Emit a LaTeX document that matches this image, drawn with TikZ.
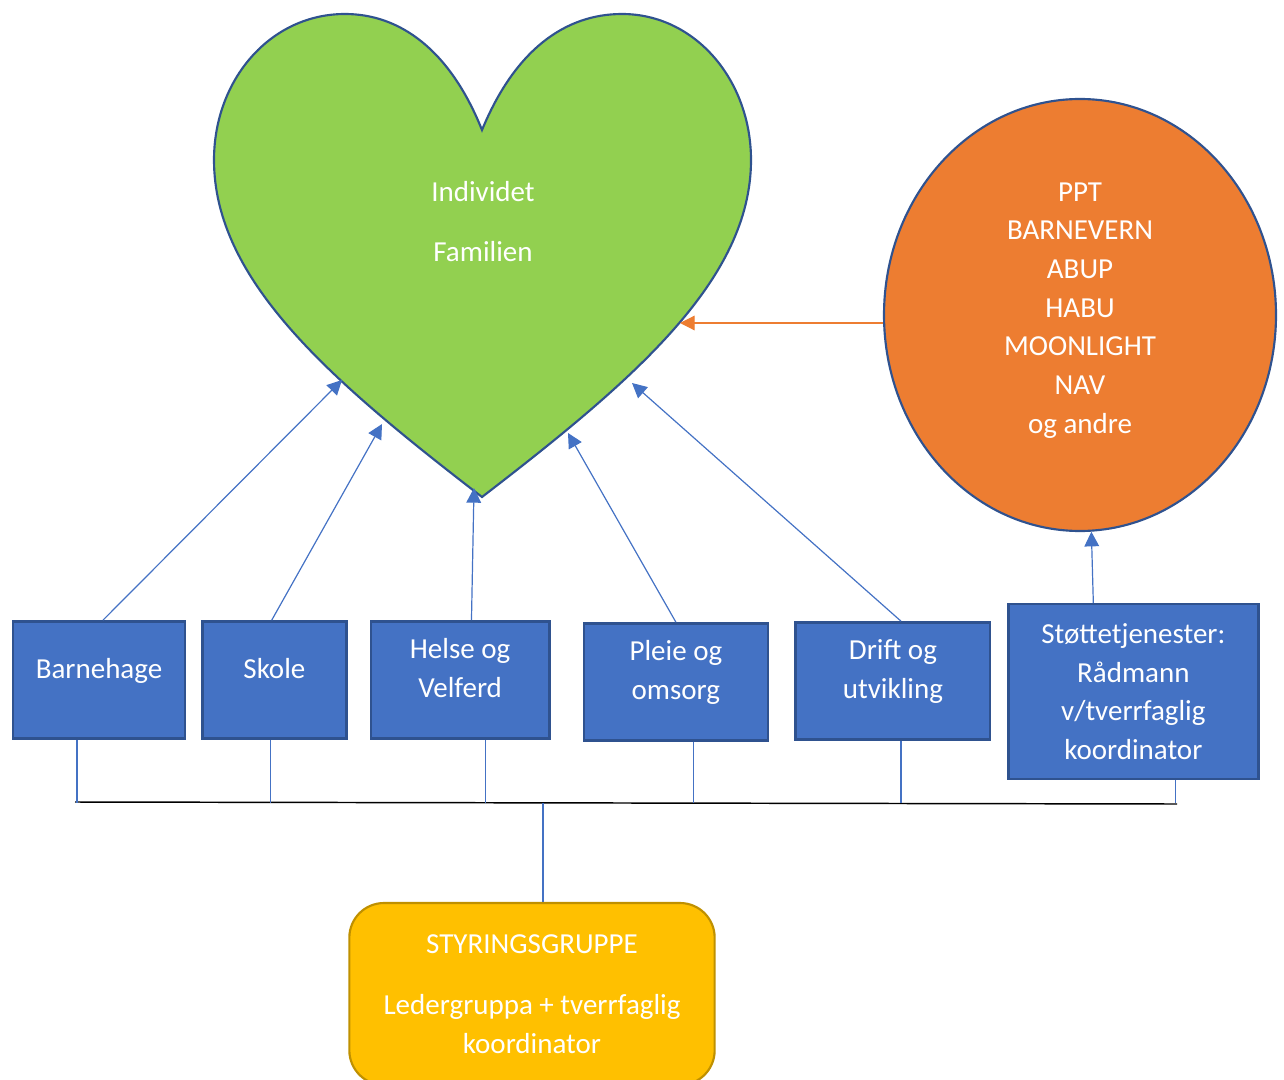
\documentclass[tikz,border=0pt]{standalone}
\usepackage{fontspec}
\setmainfont{Carlito}
\usepackage{tikz}
\usetikzlibrary{arrows.meta,positioning,shapes.geometric}
\definecolor{heartgreen}{HTML}{92D050}
\definecolor{darkblue}{HTML}{2F528F}
\definecolor{unitblue}{HTML}{4472C4}
\definecolor{helporange}{HTML}{ED7D31}
\definecolor{leadyellow}{HTML}{FFC000}
\definecolor{leadborder}{HTML}{BF9000}

\begin{document}
\begin{tikzpicture}
 	[x=0.75pt, y=-0.75pt, font=\fontsize{21.75}{29}\selectfont,
 	% STYLES
 	every node/.style={text=white, align=center},
 	% The unit style is used for the services of the municipality
 	unit/.style={rectangle, draw=darkblue, fill=unitblue, line width=1.8pt, minimum height=88pt, inner sep=2pt},
 	% The lifted style moves the text of the small units a little up
 	lifted/.style={text depth=18pt},
 	% The lead style is used for the steering group at the bottom
 	lead/.style={rectangle, rounded corners=26pt, draw=leadborder, fill=leadyellow, line width=1.6pt, minimum width=274pt, minimum height=136.5pt},
 	% The link style is used for the arrows towards the heart
 	link/.style={color=unitblue, line width=0.9pt, -{Triangle[length=11pt,width=11pt]}},
 	% The drop style is used for the thin lines down to the common line
 	drop/.style={color=unitblue, line width=0.9pt}]
 	
 	\useasboundingbox (0,0) rectangle (1284,1080);
 	
 	% heart
 	\draw[fill=heartgreen, draw=darkblue, line width=1.6pt] (482,130)
 	  .. controls (450,50) and (400,14) .. (345,14)
 	  .. controls (270,14) and (214,80) .. (214,160)
 	  .. controls (214,280) and (330,380) .. (482,497)
 	  .. controls (634,380) and (751,280) .. (751,160)
 	  .. controls (751,80) and (695,14) .. (622,14)
 	  .. controls (565,14) and (515,50) .. (482,130) -- cycle;
 	\node (Heartlabel) at (483,222) {Individet\\[16pt]Familien};
 	% points on the heart
 	\coordinate (h1) at (342,380);
 	\coordinate (h2) at (382,424);
 	\coordinate (h3) at (474,488);
 	\coordinate (h4) at (568,433);
 	\coordinate (h5) at (632,383);
 	\coordinate (h6) at (680,323);
 	
 	% other services
 	\node [ellipse, draw=darkblue, fill=helporange, line width=1.6pt, minimum width=294pt, minimum height=324pt, inner sep=0pt, text depth=10.5pt] (Support) at (1080,315) {PPT\\BARNEVERN\\ABUP\\HABU\\MOONLIGHT\\NAV\\og andre};
 	
 	% units in a row
 	\node [unit, lifted, minimum width=129pt] (Barnehage) at (99,680) {Barnehage};
 	\node [unit, lifted, minimum width=108pt, right=11.25pt of Barnehage] (Skole) {Skole};
 	\node [unit, lifted, minimum width=134pt, right=16.5pt of Skole] (Helse) {Helse og\\Velferd};
 	\node [unit, lifted, minimum width=138pt, right=24pt of Helse, yshift=-1.5pt] (Pleie) {Pleie og\\omsorg};
 	\node [unit, lifted, minimum width=146pt, right=19pt of Pleie, yshift=0.75pt] (Drift) {Drift og\\utvikling};
 	\node [unit, minimum width=187.5pt, minimum height=131pt, right=11.75pt of Drift, yshift=-7.9pt] (Stotte) {Støttetjenester:\\Rådmann\\v/tverrfaglig\\koordinator};
 	
 	% steering group
 	\node [lead] (Styring) at (532,994) {STYRINGSGRUPPE\\[16.75pt]Ledergruppa + tverrfaglig\\koordinator};
 	
 	% Draw the arrows from the units to the heart
 	\path[link]
 	([xshift=3pt]Barnehage.north) edge (h1)
 	([xshift=-2pt]Skole.north) edge (h2)
 	([xshift=8.5pt]Helse.north) edge (h3)
 	(Pleie.north) edge (h4)
 	([xshift=6pt]Drift.north) edge (h5)
 	([xshift=-30pt]Stotte.north) edge (Support.-87);
 	\path[link, color=helporange]
 	([yshift=-6pt]Support.west) edge (h6);
 	
 	% common line under the units
 	\coordinate (bus) at (543,803);
 	\coordinate (busL) at (75,802);
 	\coordinate (busR) at (1177,804);
 	\coordinate (d1) at ([xshift=-16.5pt]Barnehage.south);
 	\coordinate (d2) at ([xshift=-3pt]Skole.south);
 	\coordinate (d3) at ([xshift=19pt]Helse.south);
 	\coordinate (d4) at ([xshift=13.5pt]Pleie.south);
 	\coordinate (d5) at ([xshift=6pt]Drift.south);
 	\coordinate (d6) at ([xshift=31.5pt]Stotte.south);
 	\draw[line width=1.1pt] (busL) -- (busR);
 	\path[drop]
 	(d1) edge (d1 |- bus)
 	(d2) edge (d2 |- bus)
 	(d3) edge (d3 |- bus)
 	(d4) edge (d4 |- bus)
 	(d5) edge (d5 |- bus)
 	(d6) edge (d6 |- bus)
 	(bus) edge (bus |- Styring.north);
 	
\end{tikzpicture}
\end{document}
